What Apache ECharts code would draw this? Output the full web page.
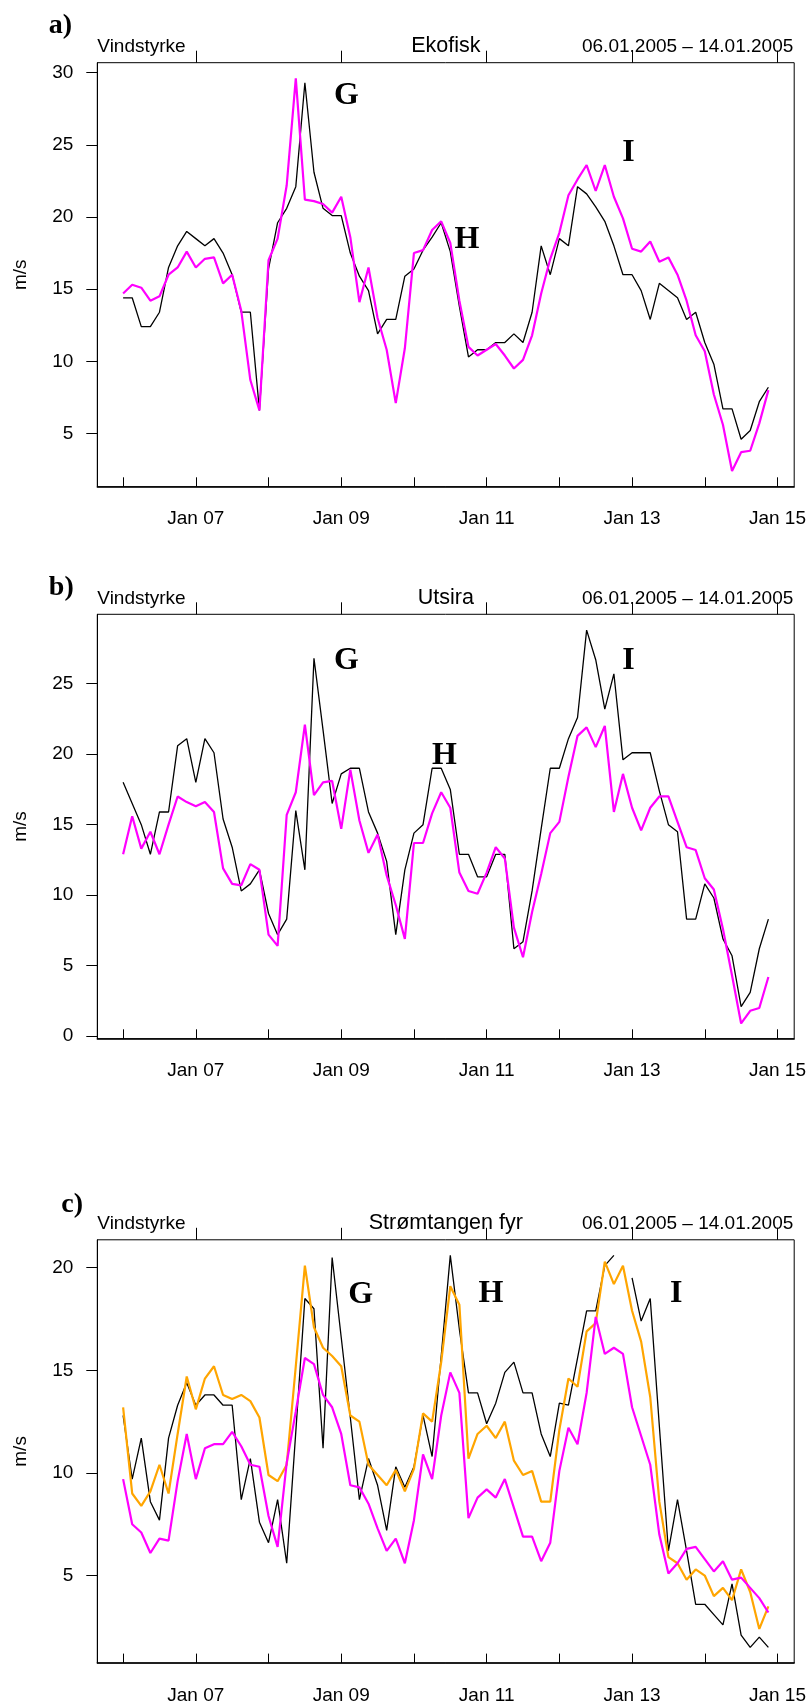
<!DOCTYPE html>
<html><head><meta charset="utf-8">
<script src="https://cdn.jsdelivr.net/npm/echarts@6/dist/echarts.min.js"></script>
<style>html,body{margin:0;padding:0;background:#fff}#c{width:809px;height:1707px}</style>
</head><body><div id="c"></div>
<script>
// Hours since 06.01.2005 00:00, one value every 3 hours (72 values per series)
const stepHours = 3;
const xTickLabels = ['Jan 07','Jan 09','Jan 11','Jan 13','Jan 15'];
const xMajorTicks = [24,72,120,168,216];
const xAllTicks = [0,24,48,72,96,120,144,168,192,216];

// a) Ekofisk
const ekofiskBlack = [14.4,14.4,12.4,12.4,13.4,16.5,18.0,19.0,18.5,18.0,18.5,17.5,16.0,13.4,13.4,6.6,16.4,19.6,20.6,22.1,29.3,23.1,20.6,20.1,20.1,17.5,15.9,14.9,11.9,12.9,12.9,15.9,16.4,17.7,18.6,19.6,17.6,13.8,10.3,10.8,10.8,11.3,11.3,11.9,11.3,13.4,18.0,16.0,18.5,18.0,22.1,21.6,20.7,19.7,18.0,16.0,16.0,14.9,12.9,15.4,14.9,14.4,12.9,13.4,11.3,9.8,6.7,6.7,4.6,5.2,7.2,8.2];
const ekofiskMagenta = [14.7,15.3,15.1,14.2,14.5,16.0,16.5,17.6,16.5,17.1,17.2,15.4,16.0,13.5,8.7,6.6,17.0,18.5,22.2,29.6,21.2,21.1,20.9,20.3,21.4,18.6,14.1,16.5,13.0,10.8,7.1,10.9,17.5,17.7,19.1,19.7,18.2,14.2,11.0,10.4,10.8,11.2,10.4,9.5,10.1,11.8,14.7,17.1,18.9,21.5,22.6,23.6,21.8,23.6,21.4,19.9,17.8,17.6,18.3,16.9,17.2,16.0,14.2,11.8,10.7,7.7,5.6,2.4,3.7,3.8,5.7,8.0];
const ekofiskYTicks = [5,10,15,20,25,30];

// b) Utsira
const utsiraBlack = [18.0,16.5,15.0,12.9,15.9,15.9,20.6,21.1,18.0,21.1,20.1,15.4,13.4,10.3,10.8,11.8,8.7,7.2,8.3,16.0,11.8,26.8,21.7,16.5,18.6,19.0,19.0,15.9,14.4,12.4,7.2,11.8,14.4,15.0,19.0,19.0,17.5,12.9,12.9,11.3,11.3,12.9,12.9,6.2,6.7,10.3,14.7,19.0,19.0,21.1,22.6,28.8,26.7,23.2,25.7,19.6,20.1,20.1,20.1,17.4,15.0,14.5,8.3,8.3,10.8,9.8,6.9,5.7,2.1,3.1,6.2,8.3];
const utsiraMagenta = [12.9,15.6,13.3,14.5,12.9,15.0,17.0,16.6,16.3,16.6,15.9,11.9,10.8,10.7,12.2,11.8,7.2,6.4,15.7,17.3,22.1,17.1,18.0,18.1,14.7,18.9,15.3,13.0,14.3,11.4,9.3,6.9,13.7,13.7,15.8,17.3,16.2,11.6,10.3,10.1,11.6,13.4,12.6,7.7,5.6,8.8,11.5,14.4,15.2,18.4,21.3,21.9,20.5,22.0,15.9,18.6,16.2,14.6,16.2,17.0,17.0,15.2,13.4,13.2,11.2,10.4,7.6,4.3,0.9,1.8,2.0,4.2];
const utsiraYTicks = [0,5,10,15,20,25];

// c) Strømtangen fyr
const stromBlack = [12.8,9.7,11.7,8.6,7.7,11.7,13.3,14.4,13.3,13.8,13.8,13.3,13.3,8.7,10.7,7.6,6.6,8.7,5.6,12.0,18.5,18.0,11.2,20.5,16.6,12.7,8.7,10.7,9.4,7.2,10.3,9.3,10.3,12.8,10.8,15.7,20.6,17.0,13.9,13.9,12.4,13.4,14.9,15.4,13.9,13.9,11.9,10.8,13.4,13.3,15.6,17.9,17.9,20.1,20.6,null,19.5,17.4,18.5,12.3,6.2,8.7,6.2,3.6,3.6,3.1,2.6,4.6,2.1,1.5,2.0,1.5];
const stromOrange = [13.2,9.0,8.4,9.1,10.4,9.0,11.9,14.7,13.1,14.6,15.2,13.8,13.6,13.8,13.5,12.7,9.9,9.6,10.4,15.2,20.1,17.1,16.1,15.7,15.2,12.8,12.5,10.4,9.9,9.4,10.15,9.1,10.2,12.9,12.5,15.4,19.1,18.2,10.7,11.9,12.3,11.7,12.5,10.6,9.9,10.1,8.6,8.6,12.1,14.6,14.2,16.9,17.3,20.3,19.2,20.1,17.9,16.4,13.7,8.6,5.9,5.6,4.8,5.3,5.0,4.0,4.4,3.8,5.3,4.2,2.4,3.5];
const stromMagenta = [9.7,7.5,7.1,6.1,6.8,6.7,9.6,11.9,9.7,11.2,11.4,11.4,12.0,11.3,10.4,10.3,7.9,6.4,10.5,13.0,15.6,15.3,13.8,13.2,11.9,9.4,9.3,8.5,7.3,6.2,6.8,5.6,7.7,10.9,9.7,12.8,14.9,13.9,7.8,8.8,9.2,8.8,9.7,8.3,6.9,6.9,5.7,6.6,10.1,12.2,11.4,13.9,17.6,15.8,16.1,15.8,13.2,11.8,10.4,7.0,5.1,5.6,6.3,6.4,5.8,5.2,5.7,4.8,4.9,4.4,3.9,3.2];
const stromYTicks = [5,10,15,20];

const panels = [
  {label:'a)', station:'Ekofisk', top:62.7, height:424, yMin:1.31, yMax:30.69, yTicks:ekofiskYTicks,
   series:[{d:ekofiskBlack,c:'#000000',w:1.3},{d:ekofiskMagenta,c:'#FF00FF',w:2.2}],
   labelPos:[60.5,25.5], marks:[['G',346.5,96],['H',467,239.5],['I',628.5,153]]},
  {label:'b)', station:'Utsira', top:614.3, height:424.4, yMin:-0.18, yMax:29.92, yTicks:utsiraYTicks,
   series:[{d:utsiraBlack,c:'#000000',w:1.3},{d:utsiraMagenta,c:'#FF00FF',w:2.2}],
   labelPos:[61.3,587.5], marks:[['G',346.5,661],['H',444.5,756],['I',628.5,661]]},
  {label:'c)', station:'Strømtangen fyr', top:1239.8, height:423.2, yMin:0.74, yMax:21.36, yTicks:stromYTicks,
   series:[{d:stromBlack,c:'#000000',w:1.3},{d:stromOrange,c:'#FFA500',w:2.2},{d:stromMagenta,c:'#FF00FF',w:2.2}],
   labelPos:[72.2,1204.5], marks:[['G',360.7,1294.5],['H',491,1294],['I',676.3,1294]]}
];

const LEFT = 97.3, WIDTH = 697;
const FONT = '"Liberation Sans", Arial, sans-serif';
const SERIF = '"Liberation Serif", "Times New Roman", serif';
const option = {animation:false, grid:[], xAxis:[], yAxis:[], series:[], graphic:[]};

panels.forEach((p, g) => {
  option.grid.push({left:LEFT, top:p.top, width:WIDTH, height:p.height, show:true, borderColor:'#000', borderWidth:1, backgroundColor:'transparent'});
  const xBase = {type:'value', gridIndex:g, min:-8.52, max:221.52, splitLine:{show:false}};
  option.xAxis.push(Object.assign({}, xBase, {
    axisLine:{show:true, onZero:false, lineStyle:{color:'#000', width:1.5}},
    axisTick:{show:true, inside:true, length:9.4, customValues:xAllTicks, lineStyle:{color:'#000', width:1}},
    axisLabel:{show:true, customValues:xMajorTicks, formatter:v => xTickLabels[xMajorTicks.indexOf(v)], margin:23, fontSize:19, color:'#000', fontFamily:FONT}
  }));
  option.xAxis.push(Object.assign({}, xBase, {
    axisLine:{show:false, onZero:false},
    axisTick:{show:true, inside:false, length:12, customValues:xMajorTicks, lineStyle:{color:'#000', width:1}},
    axisLabel:{show:false}
  }));
  option.yAxis.push({type:'value', gridIndex:g, min:p.yMin, max:p.yMax, splitLine:{show:false},
    axisLine:{show:true, onZero:false, lineStyle:{color:'#000', width:1}},
    axisTick:{show:true, length:11, customValues:p.yTicks, lineStyle:{color:'#000', width:1}},
    axisLabel:{show:true, customValues:p.yTicks, margin:24, fontSize:19, color:'#000', fontFamily:FONT}
  });
  p.series.forEach(s => {
    option.series.push({type:'line', xAxisIndex:2*g, yAxisIndex:g, showSymbol:false, symbol:'none',
      lineStyle:{color:s.c, width:s.w}, itemStyle:{color:s.c}, connectNulls:false, silent:true,
      data:s.d.map((v,i) => [i*stepHours, v == null ? '-' : v])});
  });
  const capY = p.top - 15.8;
  option.graphic.push(
    {type:'text', x:LEFT, y:capY, style:{text:'Vindstyrke', font:'19px '+FONT, fill:'#000', align:'left', verticalAlign:'middle'}},
    {type:'text', x:LEFT+WIDTH/2, y:capY - 0.8, style:{text:p.station, font:'21.5px '+FONT, fill:'#000', align:'center', verticalAlign:'middle'}},
    {type:'text', x:LEFT+WIDTH-1, y:capY, style:{text:'06.01.2005 \u2013 14.01.2005', font:'19px '+FONT, fill:'#000', align:'right', verticalAlign:'middle'}},
    {type:'text', x:21, y:p.top+p.height/2, rotation:Math.PI/2, style:{text:'m/s', font:'19px '+FONT, fill:'#000', align:'center', verticalAlign:'middle'}},
    {type:'text', x:p.labelPos[0], y:p.labelPos[1], style:{text:p.label, font:'bold 28px '+SERIF, fill:'#000', align:'center', verticalAlign:'middle'}}
  );
  p.marks.forEach(m => option.graphic.push(
    {type:'text', x:m[1], y:m[2], style:{text:m[0], font:'bold 32px '+SERIF, fill:'#000', align:'center', verticalAlign:'middle'}}
  ));
});

const chart = echarts.init(document.getElementById('c'), null, {renderer:'canvas', width:809, height:1707});
chart.setOption(option);
</script>
</body></html>
